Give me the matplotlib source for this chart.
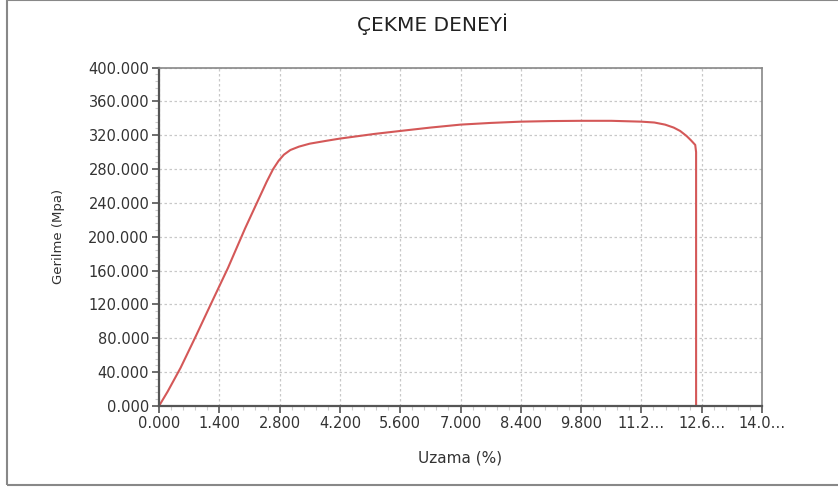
import matplotlib
matplotlib.use("Agg")
import matplotlib.pyplot as plt
from matplotlib.patches import Rectangle
from matplotlib.ticker import AutoMinorLocator

plt.rcParams['font.family'] = ['DejaVu Sans']

# tensile test curve
uzama = [0.0, 0.2, 0.5, 0.85, 1.2, 1.6, 2.0, 2.3, 2.5, 2.65, 2.78, 2.9,
         3.05, 3.25, 3.5, 3.9, 4.2, 5.0, 5.6, 6.3, 7.0, 7.7, 8.4, 9.1, 9.8,
         10.5, 11.2, 11.5, 11.75, 11.95, 12.1, 12.25, 12.35, 12.45, 12.47,
         12.47]
gerilme = [0.0, 17, 45, 82, 120, 163, 210, 243, 265, 280, 290, 297,
           302.5, 306.5, 310, 313.5, 316, 321.5, 325, 329, 332.5, 334.5,
           336, 336.7, 337, 337, 336, 335, 332.5, 329, 325, 319, 314,
           308.5, 300, 0.0]

xticks = [0.0, 1.4, 2.8, 4.2, 5.6, 7.0, 8.4, 9.8, 11.2, 12.6, 14.0]
xlabels = ["0.000", "1.400", "2.800", "4.200", "5.600", "7.000", "8.400",
           "9.800", "11.2…", "12.6…", "14.0…"]
yticks = list(range(0, 401, 40))

fig = plt.figure(figsize=(8.38, 4.9), dpi=100)
ax = fig.add_axes([159/838, 1 - 406/490, 603/838, 338.5/490])

ax.plot(uzama, gerilme, color='#d45858', lw=1.5, solid_joinstyle='round')

ax.set_xlim(0, 14)
ax.set_ylim(0, 400)
ax.set_xticks(xticks)
ax.set_xticklabels(xlabels)
ax.set_yticks(yticks)
ax.set_yticklabels(["%d.000" % v for v in yticks])
ax.xaxis.set_minor_locator(AutoMinorLocator(5))
ax.yaxis.set_minor_locator(AutoMinorLocator(5))

ax.grid(True, which='major', color='#c8c8c8', linestyle=(0, (2, 2)), lw=0.9)
ax.tick_params(which='major', direction='out', length=5, width=1.2,
               color='#555555', labelsize=10.5, labelcolor='#333333', pad=2)
ax.tick_params(which='minor', direction='out', length=3, width=0.8,
               color='#cccccc')

for side in ['left', 'bottom']:
    ax.spines[side].set_color('#555555')
    ax.spines[side].set_linewidth(1.6)
for side in ['top', 'right']:
    ax.spines[side].set_color('#888888')
    ax.spines[side].set_linewidth(1.2)

fig.text(432/838, 1 - 24/490, "ÇEKME DENEYİ", fontsize=14.5, color='#222222',
         ha='center', va='center')
ax.set_xlabel("Uzama (%)", fontsize=11, color='#333333', labelpad=14)
ax.set_ylabel("Gerilme (Mpa)", fontsize=9.5, color='#333333', labelpad=17)

# outer frame
fig.patches.append(Rectangle((7/838, 1 - 485/490), 1.0, 485/490,
                             transform=fig.transFigure, fill=False,
                             edgecolor='#888888', lw=1.5, clip_on=False))

fig.savefig("out.png", dpi=100)
